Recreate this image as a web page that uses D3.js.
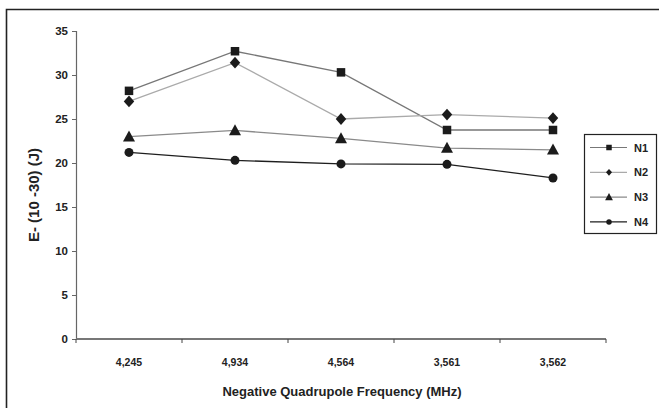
<!DOCTYPE html>
<html><head><meta charset="utf-8">
<script src="https://cdn.jsdelivr.net/npm/d3@7"></script>
<style>
body{margin:0;background:#fff;}
svg{display:block;font-family:"Liberation Sans",Arial,Helvetica,sans-serif;}
</style></head>
<body><svg id="c" width="659" height="408"></svg>
<script>
const categories = ["4,245","4,934","4,564","3,561","3,562"];
const seriesNames = ["N1","N2","N3","N4"];
const n1 = [28.2, 32.7, 30.3, 23.75, 23.75];
const n2 = [27.0, 31.4, 25.0, 25.5, 25.1];
const n3 = [23.0, 23.7, 22.8, 21.7, 21.5];
const n4 = [21.2, 20.3, 19.9, 19.85, 18.3];
const yTicks = [0,5,10,15,20,25,30,35];

const series = [
  {name:"N1", values:n1, color:"#777", shape:"square"},
  {name:"N2", values:n2, color:"#aaa", shape:"diamond"},
  {name:"N3", values:n3, color:"#8a8a8a", shape:"triangle"},
  {name:"N4", values:n4, color:"#1e1e1e", shape:"circle"}
];

const svg = d3.select("#c");
const x = d3.scaleBand().domain(categories).range([76,606]);
const y = d3.scaleLinear().domain([0,35]).range([339,31]);

// outer frame
svg.append("path").attr("d","M6.5,420V9.5H700").attr("fill","none").attr("stroke","#222").attr("stroke-width",1.6);

// y axis
const ya = svg.append("g").attr("transform","translate(76,0)")
  .call(d3.axisLeft(y).tickValues(yTicks).tickSize(4).tickPadding(4).tickFormat(d3.format("d")));
ya.select(".domain").attr("stroke","#666").attr("stroke-width",1.2);
ya.selectAll(".tick line").attr("stroke","#666");
ya.selectAll("text").attr("font-size",11.5).attr("font-weight","bold").attr("fill","#222")
  .attr("font-family","'Liberation Sans',Arial,sans-serif");

// x axis
const xa = svg.append("g").attr("transform","translate(0,339)");
xa.append("line").attr("x1",x.range()[0]).attr("x2",x.range()[1]).attr("stroke","#777").attr("stroke-width",1.8);
const bounds = categories.map(c=>x(c)).concat([x.range()[1]]);
xa.selectAll("line.tk").data(bounds).join("line").attr("class","tk")
  .attr("x1",d=>d).attr("x2",d=>d).attr("y1",0).attr("y2",4).attr("stroke","#444").attr("stroke-width",1);
xa.selectAll("text").data(categories).join("text")
  .attr("x",d=>x(d)+x.bandwidth()/2).attr("y",27)
  .attr("text-anchor","middle").attr("font-size",10.5).attr("font-weight","bold").attr("fill","#222")
  .text(d=>d);

// titles
svg.append("text").attr("x",342).attr("y",396).attr("text-anchor","middle")
  .attr("font-size",13).attr("font-weight","bold").attr("fill","#222")
  .text("Negative Quadrupole Frequency (MHz)");
svg.append("text").attr("transform","translate(39,195) rotate(-90)").attr("text-anchor","middle")
  .attr("font-size",15).attr("font-weight","bold").attr("fill","#222")
  .text("E- (10 -30) (J)");

function marker(sel, shape, s){
  if(shape==="square") return sel.append("rect").attr("x",-s/2).attr("y",-s/2).attr("width",s).attr("height",s);
  if(shape==="diamond") return sel.append("path").attr("d",`M0,${-s*0.62}L${s*0.55},0L0,${s*0.62}L${-s*0.55},0Z`);
  if(shape==="triangle") return sel.append("path").attr("d",`M0,${-s*0.62}L${s*0.6},${s*0.48}L${-s*0.6},${s*0.48}Z`);
  return sel.append("circle").attr("r",s/2);
}

const line = d3.line().x((d,i)=>x(categories[i])+x.bandwidth()/2).y(d=>y(d));
series.forEach(s=>{
  svg.append("path").datum(s.values).attr("d",line).attr("fill","none")
    .attr("stroke",s.color).attr("stroke-width",1.3);
});
const msize = {square:8.5, diamond:9.5, triangle:10, circle:9};
series.forEach(s=>{
  s.values.forEach((v,i)=>{
    const g = svg.append("g").attr("transform",`translate(${x(categories[i])+x.bandwidth()/2},${y(v)})`);
    marker(g, s.shape, msize[s.shape]).attr("fill","#1b1b1b");
  });
});

// legend
const lg = svg.append("g");
lg.append("rect").attr("x",584.5).attr("y",134.5).attr("width",72).attr("height",99)
  .attr("fill","#fff").attr("stroke","#222").attr("stroke-width",1.2);
series.forEach((s,i)=>{
  const yy = 147.5 + i*24.8;
  lg.append("line").attr("x1",590).attr("x2",627).attr("y1",yy).attr("y2",yy)
    .attr("stroke",s.color).attr("stroke-width",1.2);
  const g = lg.append("g").attr("transform",`translate(609,${yy})`);
  marker(g, s.shape, s.shape==="triangle"?6.5:5.5).attr("fill","#1b1b1b");
  lg.append("text").attr("x",634).attr("y",yy+4).attr("font-size",11).attr("font-weight","bold")
    .attr("fill","#222").text(s.name);
});
</script></body></html>
